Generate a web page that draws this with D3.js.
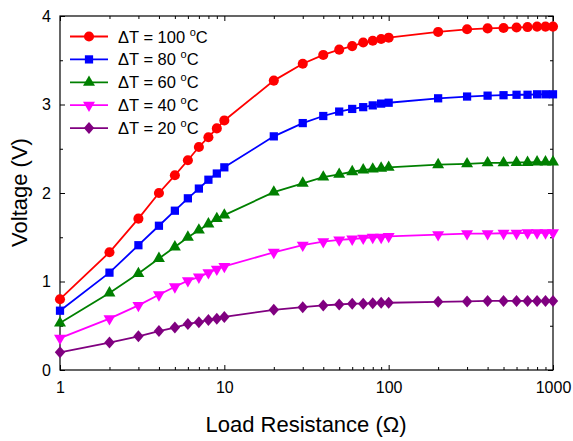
<html>
<head>
<script src="https://cdn.jsdelivr.net/npm/d3@7"></script>
<style>
  body { margin: 0; background: #fff; }
  text { font-family: "Liberation Sans", Arial, sans-serif; }
</style>
</head>
<body>
<div id="chart"></div>
<script>
(function(){
  "use strict";

  // Load resistance values (Ohm)
  var resistance = [1,2,3,4,5,6,7,8,9,10,20,30,40,50,60,70,80,90,100,200,300,400,500,600,700,800,900,1000];

  // Voltage per temperature difference
  var v100 = [0.80,1.33,1.71,2.00,2.20,2.37,2.52,2.63,2.73,2.82,3.27,3.46,3.56,3.62,3.66,3.70,3.72,3.74,3.755,3.82,3.85,3.86,3.865,3.87,3.875,3.88,3.88,3.88];
  var v80  = [0.67,1.10,1.41,1.63,1.80,1.94,2.05,2.15,2.22,2.29,2.64,2.79,2.87,2.92,2.95,2.97,2.99,3.01,3.02,3.07,3.09,3.10,3.105,3.11,3.11,3.115,3.115,3.115];
  var v60  = [0.53,0.87,1.09,1.26,1.39,1.50,1.58,1.65,1.71,1.75,2.01,2.11,2.18,2.21,2.24,2.26,2.27,2.28,2.29,2.32,2.33,2.34,2.34,2.345,2.345,2.35,2.35,2.35];
  var v40  = [0.36,0.58,0.73,0.85,0.94,1.01,1.05,1.10,1.14,1.17,1.33,1.41,1.45,1.47,1.48,1.49,1.50,1.50,1.51,1.53,1.54,1.54,1.545,1.545,1.55,1.55,1.55,1.55];
  var v20  = [0.20,0.31,0.38,0.44,0.48,0.52,0.54,0.565,0.58,0.60,0.68,0.71,0.73,0.74,0.75,0.75,0.755,0.76,0.76,0.77,0.775,0.78,0.78,0.78,0.78,0.78,0.78,0.78];

  var seriesNames = ["100", "80", "60", "40", "20"];
  var seriesValues = [v100, v80, v60, v40, v20];
  var seriesColors = ["#ff0000", "#0000ff", "#008000", "#ff00ff", "#800080"];
  var seriesSymbols = ["circle", "square", "up", "down", "diamond"];

  var xTickValues = [1, 10, 100, 1000];
  var yTickValues = [0, 1, 2, 3, 4];

  var margin = { top: 16, right: 20, bottom: 71, left: 60 };
  var W = 573, H = 441;
  var width = W - margin.left - margin.right;
  var height = H - margin.top - margin.bottom;

  var svg = d3.select("#chart").append("svg")
    .attr("width", W)
    .attr("height", H);

  var g = svg.append("g")
    .attr("transform", "translate(" + margin.left + "," + margin.top + ")");

  var x = d3.scaleLog().domain([1, 1000]).range([0, width]);
  var y = d3.scaleLinear().domain([0, 4]).range([height, 0]);

  // minor ticks
  var xMinor = [];
  for (var d = 1; d < 1000; d *= 10) {
    for (var k = 2; k <= 9; k++) xMinor.push(d * k);
  }
  var yMinor = [0.5, 1.5, 2.5, 3.5];

  // frame
  g.append("rect")
    .attr("width", width).attr("height", height)
    .attr("fill", "none").attr("stroke", "#000").attr("stroke-width", 1.2);

  // bottom axis
  var bottom = g.append("g").attr("transform", "translate(0," + height + ")")
    .call(d3.axisBottom(x).tickValues(xTickValues).tickFormat(d3.format("d"))
      .tickSizeInner(-5).tickSizeOuter(0).tickPadding(12));
  bottom.append("g").call(d3.axisBottom(x).tickValues(xMinor).tickFormat("").tickSizeInner(-3).tickSizeOuter(0));

  // top axis
  var top = g.append("g")
    .call(d3.axisTop(x).tickValues(xTickValues).tickFormat("").tickSizeInner(-5).tickSizeOuter(0));
  top.append("g").call(d3.axisTop(x).tickValues(xMinor).tickFormat("").tickSizeInner(-3).tickSizeOuter(0));

  // left axis
  var left = g.append("g")
    .call(d3.axisLeft(y).tickValues(yTickValues).tickFormat(d3.format("d"))
      .tickSizeInner(-5).tickSizeOuter(0).tickPadding(9));
  left.append("g").call(d3.axisLeft(y).tickValues(yMinor).tickFormat("").tickSizeInner(-3).tickSizeOuter(0));

  // right axis
  var right = g.append("g").attr("transform", "translate(" + width + ",0)")
    .call(d3.axisRight(y).tickValues(yTickValues).tickFormat("").tickSizeInner(-5).tickSizeOuter(0));
  right.append("g").call(d3.axisRight(y).tickValues(yMinor).tickFormat("").tickSizeInner(-3).tickSizeOuter(0));

  g.selectAll(".domain").remove();
  g.selectAll(".tick line").attr("stroke", "#000").attr("stroke-width", 1);
  g.selectAll(".tick text").attr("font-size", 16).attr("fill", "#000")
    .style("font-family", "'Liberation Sans', Arial, sans-serif");

  // marker shapes
  function symbolPath(sym) {
    if (sym === "circle") return d3.symbol().type(d3.symbolCircle).size(80)();
    if (sym === "square") return d3.symbol().type(d3.symbolSquare).size(68)();
    if (sym === "up" || sym === "down") return d3.symbol().type(d3.symbolTriangle).size(62)();
    // diamond: square turned 45 degrees, a bit taller than wide
    return "M0,-6L5.2,0L0,6L-5.2,0Z";
  }

  var line = d3.line()
    .x(function(d){ return x(d[0]); })
    .y(function(d){ return y(d[1]); });

  seriesValues.forEach(function(vals, si) {
    var pts = resistance.map(function(r, i){ return [r, vals[i]]; });
    g.append("path")
      .datum(pts)
      .attr("fill", "none")
      .attr("stroke", seriesColors[si])
      .attr("stroke-width", 1.8)
      .attr("d", line);

    g.selectAll(".m" + si)
      .data(pts)
      .enter().append("path")
      .attr("class", "m" + si)
      .attr("d", symbolPath(seriesSymbols[si]))
      .attr("fill", seriesColors[si])
      .attr("transform", function(d){
        var t = "translate(" + x(d[0]) + "," + y(d[1]) + ")";
        if (seriesSymbols[si] === "down") t += " rotate(180)";
        return t;
      });
  });

  // legend
  var legend = g.append("g").attr("transform", "translate(10,20.5)");
  seriesNames.forEach(function(name, i) {
    var row = legend.append("g").attr("transform", "translate(0," + (i * 22.9) + ")");
    row.append("line").attr("x1", 0).attr("x2", 38).attr("y1", 0).attr("y2", 0)
      .attr("stroke", seriesColors[i]).attr("stroke-width", 1.8);
    row.append("path")
      .attr("d", symbolPath(seriesSymbols[i]))
      .attr("fill", seriesColors[i])
      .attr("transform", "translate(19,0)" + (seriesSymbols[i] === "down" ? " rotate(180)" : ""));
    var t = row.append("text").attr("x", 48).attr("y", 6)
      .attr("font-size", 16.5).attr("fill", "#000");
    t.append("tspan").text("\u0394T = " + name + " ");
    t.append("tspan").attr("font-size", 11).attr("dy", -7).text("o");
    t.append("tspan").attr("dy", 7).text("C");
  });

  // axis titles
  svg.append("text")
    .attr("x", 306)
    .attr("y", 432)
    .attr("text-anchor", "middle")
    .attr("font-size", 22)
    .text("Load Resistance (\u03A9)");

  svg.append("text")
    .attr("transform", "translate(27,192.5) rotate(-90)")
    .attr("text-anchor", "middle")
    .attr("font-size", 22)
    .text("Voltage (V)");
})();
</script>
</body>
</html>
